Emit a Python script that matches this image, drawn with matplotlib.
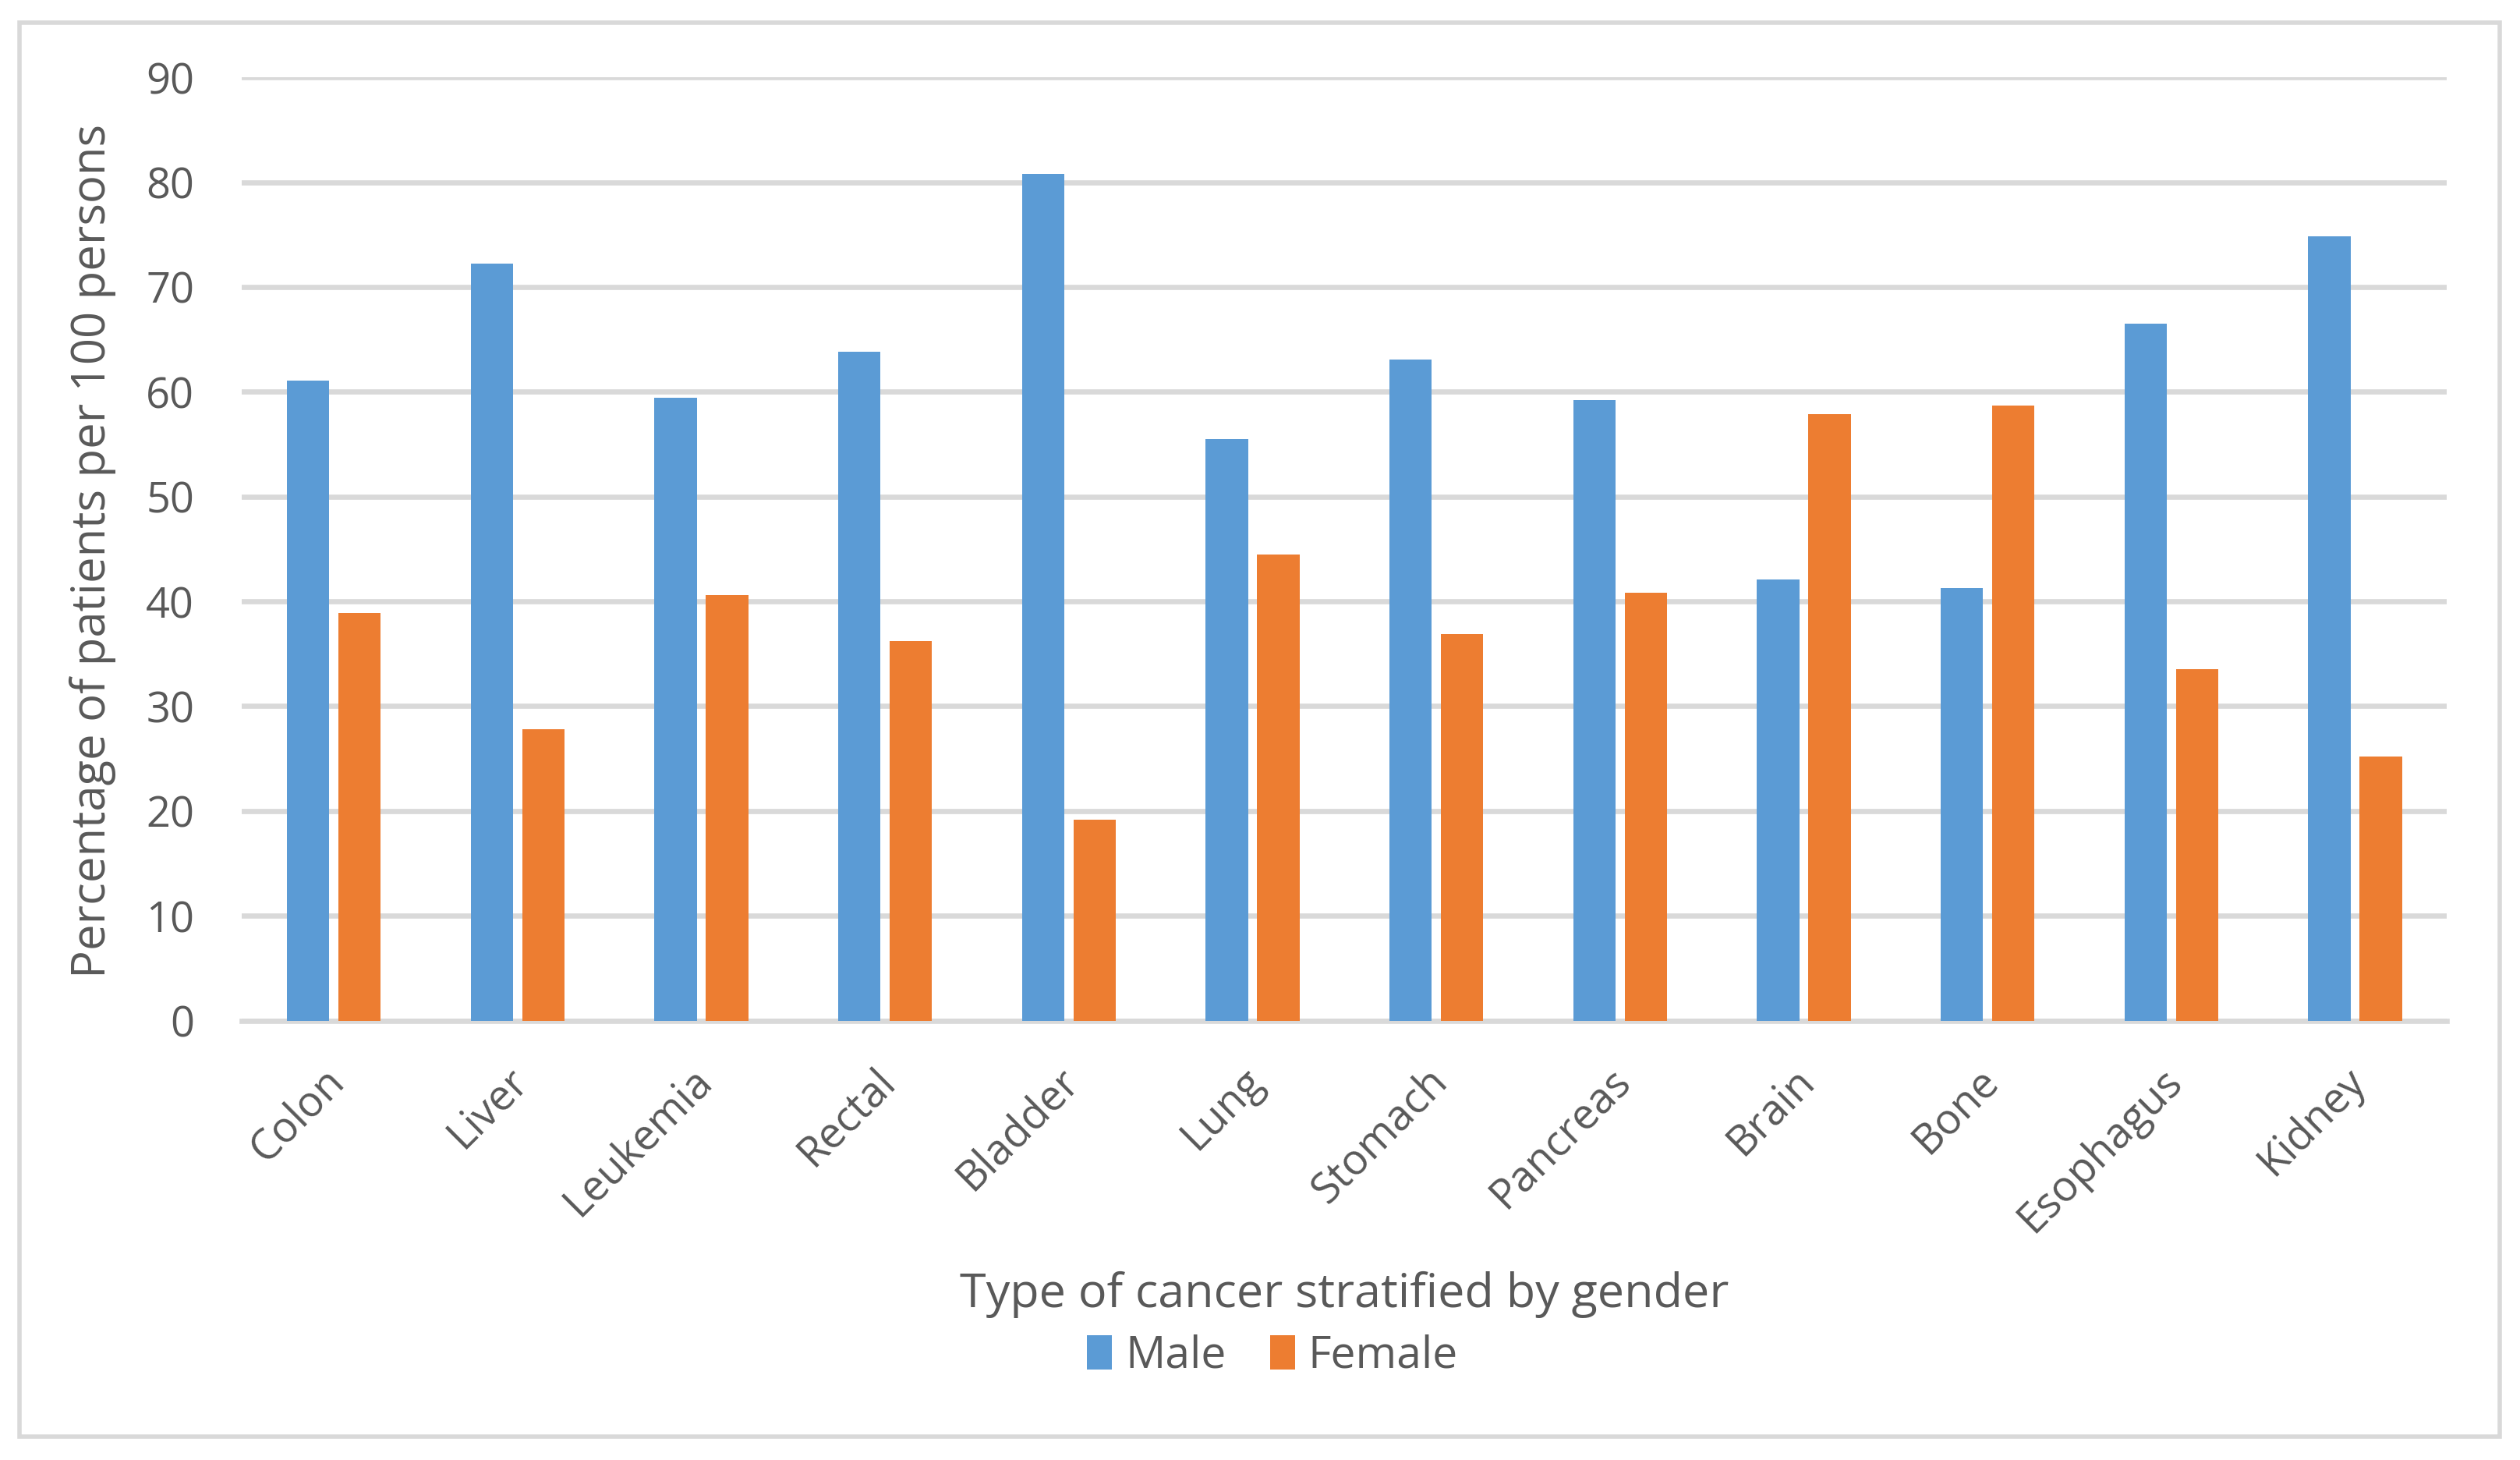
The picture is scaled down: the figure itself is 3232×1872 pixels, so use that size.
import matplotlib
matplotlib.use("Agg")
import matplotlib.pyplot as plt
import numpy as np
from matplotlib.patches import Rectangle

categories = ["Colon", "Liver", "Leukemia", "Rectal", "Bladder", "Lung", "Stomach",
              "Pancreas", "Brain", "Bone", "Esophagus", "Kidney"]
male = [61.1, 72.2, 59.4, 63.8, 80.8, 55.5, 63.1, 59.2, 42.1, 41.3, 66.5, 74.8]
female = [38.9, 27.8, 40.6, 36.2, 19.2, 44.5, 36.9, 40.8, 57.9, 58.7, 33.5, 25.2]
yticks = [0, 10, 20, 30, 40, 50, 60, 70, 80, 90]

BLUE = "#5B9BD5"
ORANGE = "#ED7D31"
GRID = "#D9D9D9"
TXT = "#595959"

plt.rcParams['font.family'] = ['Open Sans', 'DejaVu Sans']

fig = plt.figure(figsize=(16.16, 9.36), dpi=200)
ax = fig.add_axes([0.096, 0.301, 0.875, 0.646])

x = np.arange(len(categories))
w = 0.23
off = 0.14
ax.bar(x - off, male, w, color=BLUE, label="Male", zorder=3)
ax.bar(x + off, female, w, color=ORANGE, label="Female", zorder=3)

ax.set_xlim(-0.5, len(categories) - 0.5)
ax.set_ylim(0, 90)
ax.set_yticks(yticks)
ax.set_yticklabels([str(t) for t in yticks])
ax.yaxis.grid(True, color=GRID, linewidth=2.4, zorder=0)
ax.set_axisbelow(True)
for s in ["top", "right", "left"]:
    ax.spines[s].set_visible(False)
ax.spines["bottom"].set_color(GRID)
ax.spines["bottom"].set_linewidth(2.4)
ax.tick_params(axis='y', length=0, pad=22, labelsize=19.5, labelcolor=TXT)
ax.tick_params(axis='x', length=0, pad=18, labelsize=19.5, labelcolor=TXT)
ax.set_xticks(x - 0.06)
ax.set_xticklabels(categories, rotation=45, ha='right', rotation_mode='anchor')

ax.set_ylabel("Percentage of patients per 100 persons", fontsize=21.5, color=TXT)
ax.yaxis.set_label_coords(-0.057, 0.498)
ax.set_xlabel("Type of cancer stratified by gender", fontsize=22, color=TXT)
ax.xaxis.set_label_coords(0.5, -0.266)

leg = fig.legend(loc='center', bbox_to_anchor=(0.505, 0.071), ncol=2, frameon=False,
                 fontsize=20.5, handlelength=0.55, handleheight=0.8, columnspacing=1.0,
                 handletextpad=0.3)
for t in leg.get_texts():
    t.set_color(TXT)

fig.patches.append(Rectangle((0.0077, 0.016), 0.9843, 0.9685, transform=fig.transFigure,
                             fill=False, edgecolor=GRID, linewidth=2.0))

fig.savefig("out.png", dpi=200, facecolor="white")
